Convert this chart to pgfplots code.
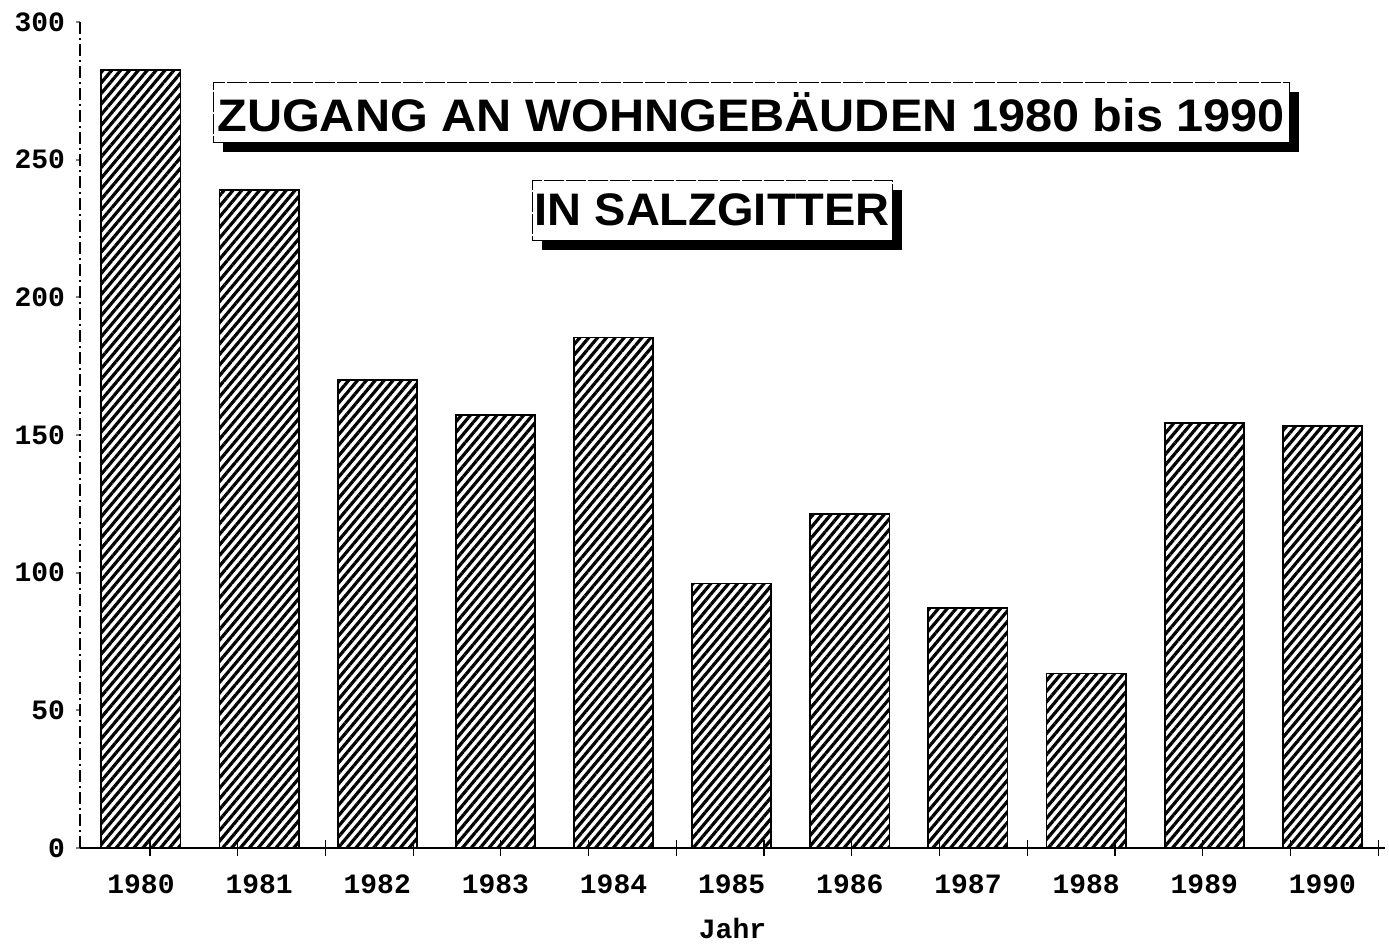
\documentclass[border=0pt]{standalone}
\usepackage{fontspec}
\usepackage{graphicx}
\usepackage{pgfplots}
\pgfplotsset{compat=1.18}
\usetikzlibrary{patterns.meta,calc}
\newfontfamily\titlefont{Liberation Sans}
\newfontfamily\tickfont{Liberation Mono}
\begin{document}
\begin{tikzpicture}
\begin{axis}[
  scale only axis,
  width=652.5pt, height=413pt,
  xmin=-0.516, xmax=10.53,
  ymin=0, ymax=300,
  /pgf/number format/assume math mode=true,
  axis x line=bottom, axis y line=left,
  x axis line style={-, line width=0.7pt},
  y axis line style={-, line width=0.7pt, dash pattern=on 6pt off 2pt on 1pt off 2pt},
  xtick=data,
  xticklabels={1980,1981,1982,1983,1984,1985,1986,1987,1988,1989,1990},
  x tick label style={font=\tickfont\bfseries\fontsize{14}{16}\selectfont, yshift=-8pt},
  ytick={0,50,100,150,200,250,300},
  y tick label style={font=\tickfont\bfseries\fontsize{14}{16}\selectfont, xshift=-2pt},
  major tick length=2pt,
  tick align=outside,
  xtick style={draw=none},
  ytick style={line width=1pt},
  extra x ticks={0.076,0.819,1.561,2.304,3.046,3.789,4.532,5.274,6.017,6.759,7.502,8.245,8.987,9.730,10.472},
  extra x tick labels={},
  extra x tick style={major tick length=8pt, tick align=center, xtick style={draw=black, line width=0.6pt}},
  xlabel={Jahr},
  xlabel style={font=\tickfont\bfseries\fontsize{14}{16}\selectfont, yshift=1pt},
  clip=false,
]
\addplot[ybar, bar width=0.67, draw=black, line width=0.9pt,
  pattern={Lines[angle=50, distance=3.4pt, line width=1.6pt]}, pattern color=black]
  coordinates {
  (0,282.5) (1,239) (2,170) (3,157.3) (4,185.4) (5,96.1)
  (6,121.2) (7,87.3) (8,63.4) (9,154.3) (10,153.3)
  };
\node[fill=black, minimum width=538pt, minimum height=30pt, inner sep=0pt]
  at ($(axis cs:5.165,267.3)+(5pt,-5pt)$) {};
\node[fill=white, draw=black, line width=0.4pt, dash pattern=on 10pt off 1pt,
  minimum width=538pt, minimum height=30pt, inner sep=0pt]
  at (axis cs:5.165,267.3) {\scalebox{1.035}[0.97]{\titlefont\bfseries\fontsize{23.5}{26}\selectfont ZUGANG AN WOHNGEBÄUDEN 1980 bis 1990}};
\node[fill=black, minimum width=180pt, minimum height=30pt, inner sep=0pt]
  at ($(axis cs:4.835,231.7)+(5pt,-5pt)$) {};
\node[fill=white, draw=black, line width=0.4pt, dash pattern=on 10pt off 1pt,
  minimum width=180pt, minimum height=30pt, inner sep=0pt]
  at (axis cs:4.835,231.7) {\scalebox{1.0}[0.97]{\titlefont\bfseries\fontsize{23.5}{26}\selectfont IN SALZGITTER}};
\end{axis}
\pgfresetboundingbox
\path ($(current axis.south west)+(-40pt,-48pt)$) rectangle ($(current axis.north east)+(2pt,11pt)$);
\end{tikzpicture}
\end{document}
